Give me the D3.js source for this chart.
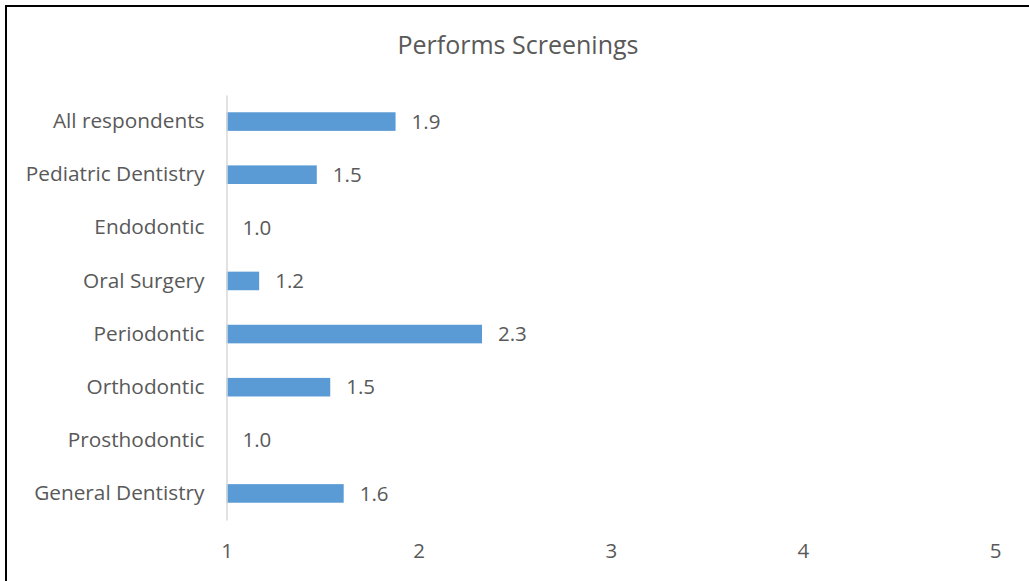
<!DOCTYPE html>
<html>
<head>
<meta charset="utf-8">
<script src="https://cdn.jsdelivr.net/npm/d3@7"></script>
<style>
  body { margin: 0; background: #fff; }
  svg text { font-family: "Open Sans", sans-serif; fill: #595959; }
</style>
</head>
<body>
<div id="chart"></div>
<script>
// categories top to bottom
var categories = ["All respondents", "Pediatric Dentistry", "Endodontic", "Oral Surgery",
                  "Periodontic", "Orthodontic", "Prosthodontic", "General Dentistry"];
var values = [1.88, 1.47, 1.0, 1.17, 2.33, 1.54, 1.0, 1.61];
var xTicks = [1, 2, 3, 4, 5];
var title = "Performs Screenings";

var svgwidth = 1029, svgheight = 581;
var margin = {top: 95, right: 34, bottom: 61, left: 226.5},
    width = svgwidth - margin.left - margin.right,
    height = svgheight - margin.top - margin.bottom;

var data = categories.map(function(c, i) { return {name: c, value: values[i]}; });

var x = d3.scaleLinear().domain([1, 5]).range([0, width]);
var y = d3.scaleBand()
    .domain(categories)
    .range([0, height])
    .paddingInner(0.65)
    .paddingOuter(0.325);

var svg = d3.select("#chart").append("svg")
    .attr("width", svgwidth)
    .attr("height", svgheight);

// frame (only left and top edges show in the picture)
svg.append("line").attr("x1", 6).attr("x2", 6).attr("y1", 5).attr("y2", svgheight)
    .attr("stroke", "#000").attr("stroke-width", 2);
svg.append("line").attr("x1", 5).attr("x2", svgwidth).attr("y1", 6).attr("y2", 6)
    .attr("stroke", "#000").attr("stroke-width", 2);

svg.append("text")
    .attr("x", 518)
    .attr("y", 54)
    .attr("text-anchor", "middle")
    .style("font-size", "25px")
    .text(title);

var g = svg.append("g")
    .attr("transform", "translate(" + margin.left + "," + margin.top + ")");

// bars
g.selectAll(".bar")
    .data(data)
  .enter().append("rect")
    .attr("class", "bar")
    .attr("x", x(1))
    .attr("y", function(d) { return y(d.name); })
    .attr("width", function(d) { return x(d.value) - x(1); })
    .attr("height", y.bandwidth())
    .style("fill", "#5b9bd5");

// value labels
g.selectAll(".val")
    .data(data)
  .enter().append("text")
    .attr("class", "val")
    .attr("x", function(d) { return x(d.value) + 16; })
    .attr("y", function(d) { return y(d.name) + y.bandwidth() / 2; })
    .attr("dy", "0.35em")
    .style("font-size", "20.5px")
    .text(function(d) { return d3.format(".1f")(d.value); });

// y axis: vertical line + category labels
var yAxis = d3.axisLeft(y).tickSize(0).tickPadding(22);
var ya = g.append("g").attr("class", "y axis").call(yAxis);
ya.select(".domain").attr("stroke", "#d9d9d9").attr("stroke-width", 1.5);
ya.selectAll("text").style("font-size", "20.8px").style("fill", "#595959");

// x axis: labels only
var xAxis = d3.axisBottom(x).tickValues(xTicks).tickSize(0).tickPadding(23)
    .tickFormat(d3.format("d"));
var xa = g.append("g").attr("class", "x axis")
    .attr("transform", "translate(0," + height + ")")
    .call(xAxis);
xa.select(".domain").remove();
xa.selectAll("text").style("font-size", "20.5px").style("fill", "#595959");
</script>
</body>
</html>
